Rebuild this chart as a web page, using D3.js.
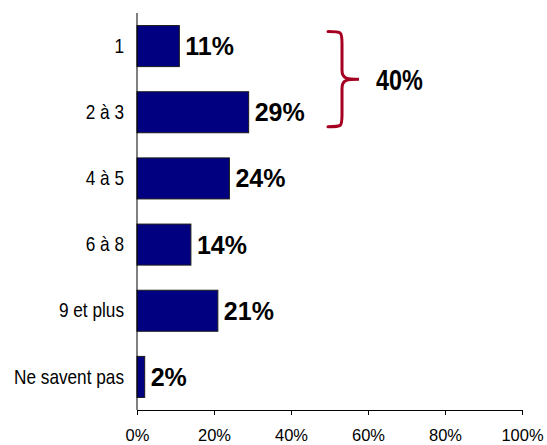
<!DOCTYPE html>
<html>
<head>
<meta charset="utf-8">
<script src="https://cdn.jsdelivr.net/npm/d3@7/dist/d3.min.js"></script>
<style>
  html, body { margin: 0; padding: 0; background: #fff; }
  svg { display: block; }
</style>
</head>
<body>
<svg id="chart" width="547" height="445"></svg>
<script>
const categories = ["1", "2 à 3", "4 à 5", "6 à 8", "9 et plus", "Ne savent pas"];
const values = [11, 29, 24, 14, 21, 2];
const tickValues = [0, 20, 40, 60, 80, 100];
const groupLabel = "40%";
const groupCategories = ["1", "2 à 3"];

const svg = d3.select("#chart");
const margin = { left: 137, right: 25, top: 13, bottom: 35 };
const W = 547, H = 445;

const x = d3.scaleLinear().domain([0, 100]).range([margin.left, W - margin.right]);
const y = d3.scaleBand().domain(categories).range([margin.top, H - margin.bottom]).paddingInner(0.38).paddingOuter(0.19);

const sans = "'Liberation Sans', Arial, sans-serif";

// bars
svg.append("g").selectAll("rect").data(values).join("rect")
  .attr("x", x(0))
  .attr("y", (d, i) => y(categories[i]))
  .attr("width", d => x(d) - x(0))
  .attr("height", y.bandwidth())
  .attr("fill", "#000080")
  .attr("stroke", "#1a1a1a")
  .attr("stroke-width", 1);

// x axis
const xAxis = d3.axisBottom(x).tickValues(tickValues).tickFormat(d => d + "%").tickSize(5).tickSizeOuter(0);
const gx = svg.append("g").attr("transform", `translate(0,${H - margin.bottom})`).call(xAxis);
gx.select(".domain").attr("stroke", "#000");
gx.selectAll(".tick line").attr("stroke", "#000");
gx.selectAll(".tick text").attr("font-family", sans).attr("font-size", 16.5).attr("fill", "#000").attr("y", 31).attr("dy", 0);

// y axis
const yAxis = d3.axisLeft(y).tickSize(0).tickPadding(0);
const gy = svg.append("g").attr("transform", `translate(${x(0)},0)`).call(yAxis);
gy.select(".domain").attr("stroke", "#000").attr("d", `M0,${margin.top}V${H - margin.bottom}`);
gy.selectAll(".tick text")
  .attr("font-family", sans).attr("font-size", 21).attr("fill", "#000")
  .attr("x", 0)
  .attr("transform", "translate(-13,0) scale(0.82,1)");

// value labels
svg.append("g").selectAll("text").data(values).join("text")
  .attr("x", d => x(d) + 6)
  .attr("y", (d, i) => y(categories[i]) + y.bandwidth() / 2)
  .attr("dy", "0.36em")
  .attr("font-family", sans)
  .attr("font-weight", "bold")
  .attr("font-size", 25)
  .attr("fill", "#000")
  .text(d => d + "%");

// bracket
const y0 = y(groupCategories[0]) + 6;
const y1 = y(groupCategories[groupCategories.length - 1]) + y.bandwidth() - 6;
const ym = (y0 + y1) / 2;
const bx = 328, vx = 342, tx = 359;
const path = `M${bx},${y0} C${vx},${y0} ${vx},${y0} ${vx},${y0 + 12} L${vx},${ym - 9} C${vx},${ym} ${vx + 6},${ym} ${tx},${ym}
  C${vx + 6},${ym} ${vx},${ym} ${vx},${ym + 9} L${vx},${y1 - 12} C${vx},${y1} ${vx},${y1} ${bx},${y1}`;
svg.append("path").attr("d", path).attr("fill", "none").attr("stroke", "#A50021").attr("stroke-width", 3).attr("stroke-linecap", "round");

svg.append("text")
  .attr("x", 0).attr("y", 0)
  .attr("transform", `translate(376,${ym}) scale(0.78,1)`)
  .attr("dy", "0.36em")
  .attr("font-family", sans)
  .attr("font-weight", "bold")
  .attr("font-size", 30)
  .attr("fill", "#000")
  .text(groupLabel);
</script>
</body>
</html>
